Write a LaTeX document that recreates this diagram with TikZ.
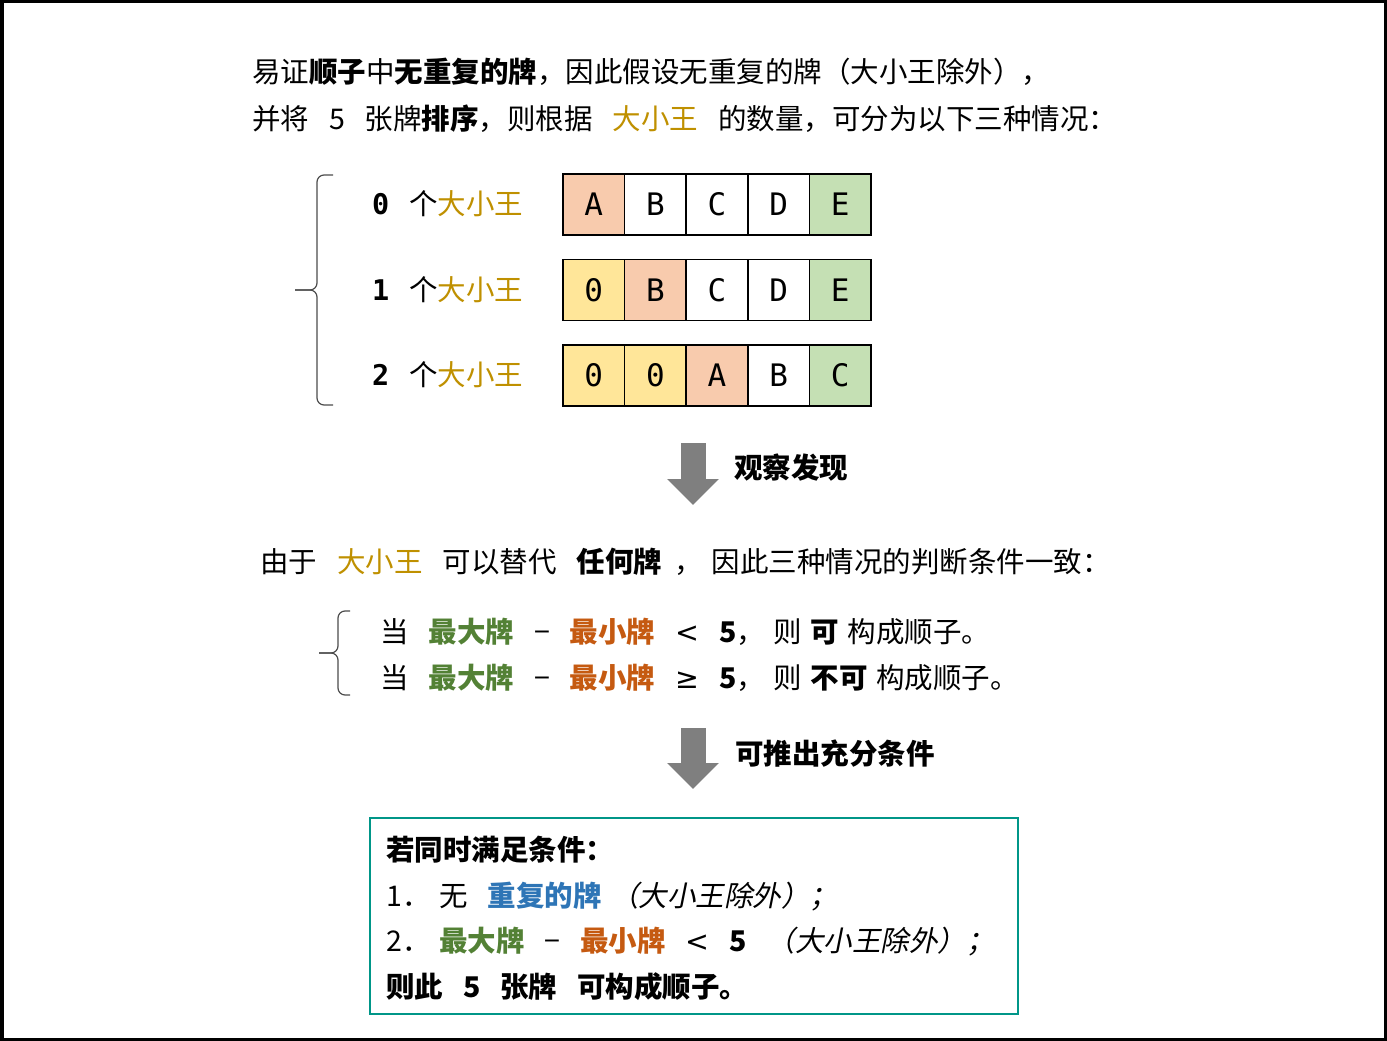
\documentclass[tikz,border=0pt]{standalone}
\usepackage{fontspec}
\setmainfont{Noto Sans CJK SC}
\newfontfamily\monofont{DejaVu Sans Mono}
\newfontfamily\symfont{DejaVu Sans}
\newfontfamily\cjkit[FakeSlant=0.2]{Noto Sans CJK SC}
\usepackage{xcolor}
\usetikzlibrary{arrows.meta, positioning}

\definecolor{joker}{RGB}{191,144,0}
\definecolor{maxgreen}{RGB}{83,129,53}
\definecolor{minorange}{RGB}{197,90,17}
\definecolor{dupblue}{RGB}{46,117,182}
\definecolor{cardred}{RGB}{248,203,173}
\definecolor{cardyellow}{RGB}{255,230,153}
\definecolor{cardgreen}{RGB}{197,224,180}
\definecolor{boxteal}{RGB}{0,150,136}
\definecolor{arrowgray}{RGB}{127,127,127}

\newcommand{\jk}{\textcolor{joker}{大小王}}
\newcommand{\mx}{\textcolor{maxgreen}{\textbf{最大牌}}}
\newcommand{\mn}{\textcolor{minorange}{\textbf{最小牌}}}
\newcommand{\gap}{\hspace{0.7em}}
\newcommand{\sgap}{\hspace{0.3em}}

\begin{document}
\begin{tikzpicture}[
  x=1pt, y=-1pt,
  txt/.style={anchor=base west, inner sep=0pt, font=\fontsize{28.5}{32}\selectfont},
  card/.style={draw, line width=1.6pt, fill=#1, minimum width=61.6pt, minimum height=61pt,
    inner sep=0pt, font=\monofont\fontsize{31}{34}\selectfont},
  bigarrow/.style={arrowgray, line width=25pt, -{Triangle[width=50pt,length=26pt]}},
  brace/.style={draw=black!70, line width=1.2pt, rounded corners=7pt}
]
  \useasboundingbox (0,0) rectangle (1387,1041);
  \draw[line width=3.5pt] (1.75,1.75) rectangle (1385.25,1039.25);

  % Intro
  \node[txt] (intro1) at (252,82) {易证\textbf{顺子}中\textbf{无重复的牌}，因此假设无重复的牌（大小王除外），};
  \node[txt] (intro2) at (252,129) {并将\gap 5\gap 张牌\textbf{排序}，则根据\gap\jk\gap 的数量，可分为以下三种情况：};

  % Three cases
  \draw[brace] (333,175) -- (317,175) -- (317,290) -- (295,290);
  \draw[brace] (295,290) -- (317,290) -- (317,405) -- (333,405);

  \node[txt] (lab0) at (372,214) {{\monofont\bfseries 0}\gap 个\jk};
  \node[txt] (lab1) at (372,300) {{\monofont\bfseries 1}\gap 个\jk};
  \node[txt] (lab2) at (372,385) {{\monofont\bfseries 2}\gap 个\jk};

  \foreach \t/\c [count=\i] in {A/cardred, B/white, C/white, D/white, E/cardgreen}
    \node[card=\c] (ra\i) at (563+61.6*\i-30.8, 204.5) {\t};
  \foreach \t/\c [count=\i] in {0/cardyellow, B/cardred, C/white, D/white, E/cardgreen}
    \node[card=\c] (rb\i) at (563+61.6*\i-30.8, 290) {\t};
  \foreach \t/\c [count=\i] in {0/cardyellow, 0/cardyellow, A/cardred, B/white, C/cardgreen}
    \node[card=\c] (rc\i) at (563+61.6*\i-30.8, 375.5) {\t};

  % Observation
  \coordinate (obs1) at (693,443);
  \coordinate (obs2) at (693,505);
  \draw[bigarrow] (obs1) -- (obs2);
  \node[txt] (obslabel) at (734,478) {\textbf{观察发现}};

  \node[txt] (same) at (260,572) {由于\gap\jk\gap 可以替代\gap\textbf{任何牌}\hspace{0.45em}，\sgap 因此三种情况的判断条件一致：};

  % Two conditions
  \draw[brace] (350,611) -- (338,611) -- (338,653) -- (319,653);
  \draw[brace] (319,653) -- (338,653) -- (338,695) -- (350,695);
  \node[txt] (condA) at (380,642) {当\gap\mx\gap −\gap\mn\gap{\symfont <}\gap\textbf{5}，\sgap 则\sgap\textbf{可}\sgap 构成顺子。};
  \node[txt] (condB) at (380,688) {当\gap\mx\gap −\gap\mn\gap{\symfont ≥}\gap\textbf{5}，\sgap 则\sgap\textbf{不可}\sgap 构成顺子。};

  % Sufficient condition
  \coordinate (suf1) at (693,728);
  \coordinate (suf2) at (693,789);
  \draw[bigarrow] (suf1) -- (suf2);
  \node[txt] (suflabel) at (735,764) {\textbf{可推出充分条件}};

  \draw[boxteal, line width=2pt] (370,818) rectangle (1018,1014);
  \node[txt] (res0) at (386,860) {\textbf{若同时满足条件：}};
  \node[txt] (res1) at (386,906) {1．\sgap 无\gap\textcolor{dupblue}{\textbf{重复的牌}}\sgap{\cjkit（大小王除外）；}};
  \node[txt] (res2) at (386,951) {2．\sgap\mx\gap −\gap\mn\gap{\symfont <}\gap\textbf{5}\gap{\cjkit（大小王除外）；}};
  \node[txt] (res3) at (386,997) {\textbf{则此\gap 5\gap 张牌\gap 可构成顺子。}};
\end{tikzpicture}
\end{document}
